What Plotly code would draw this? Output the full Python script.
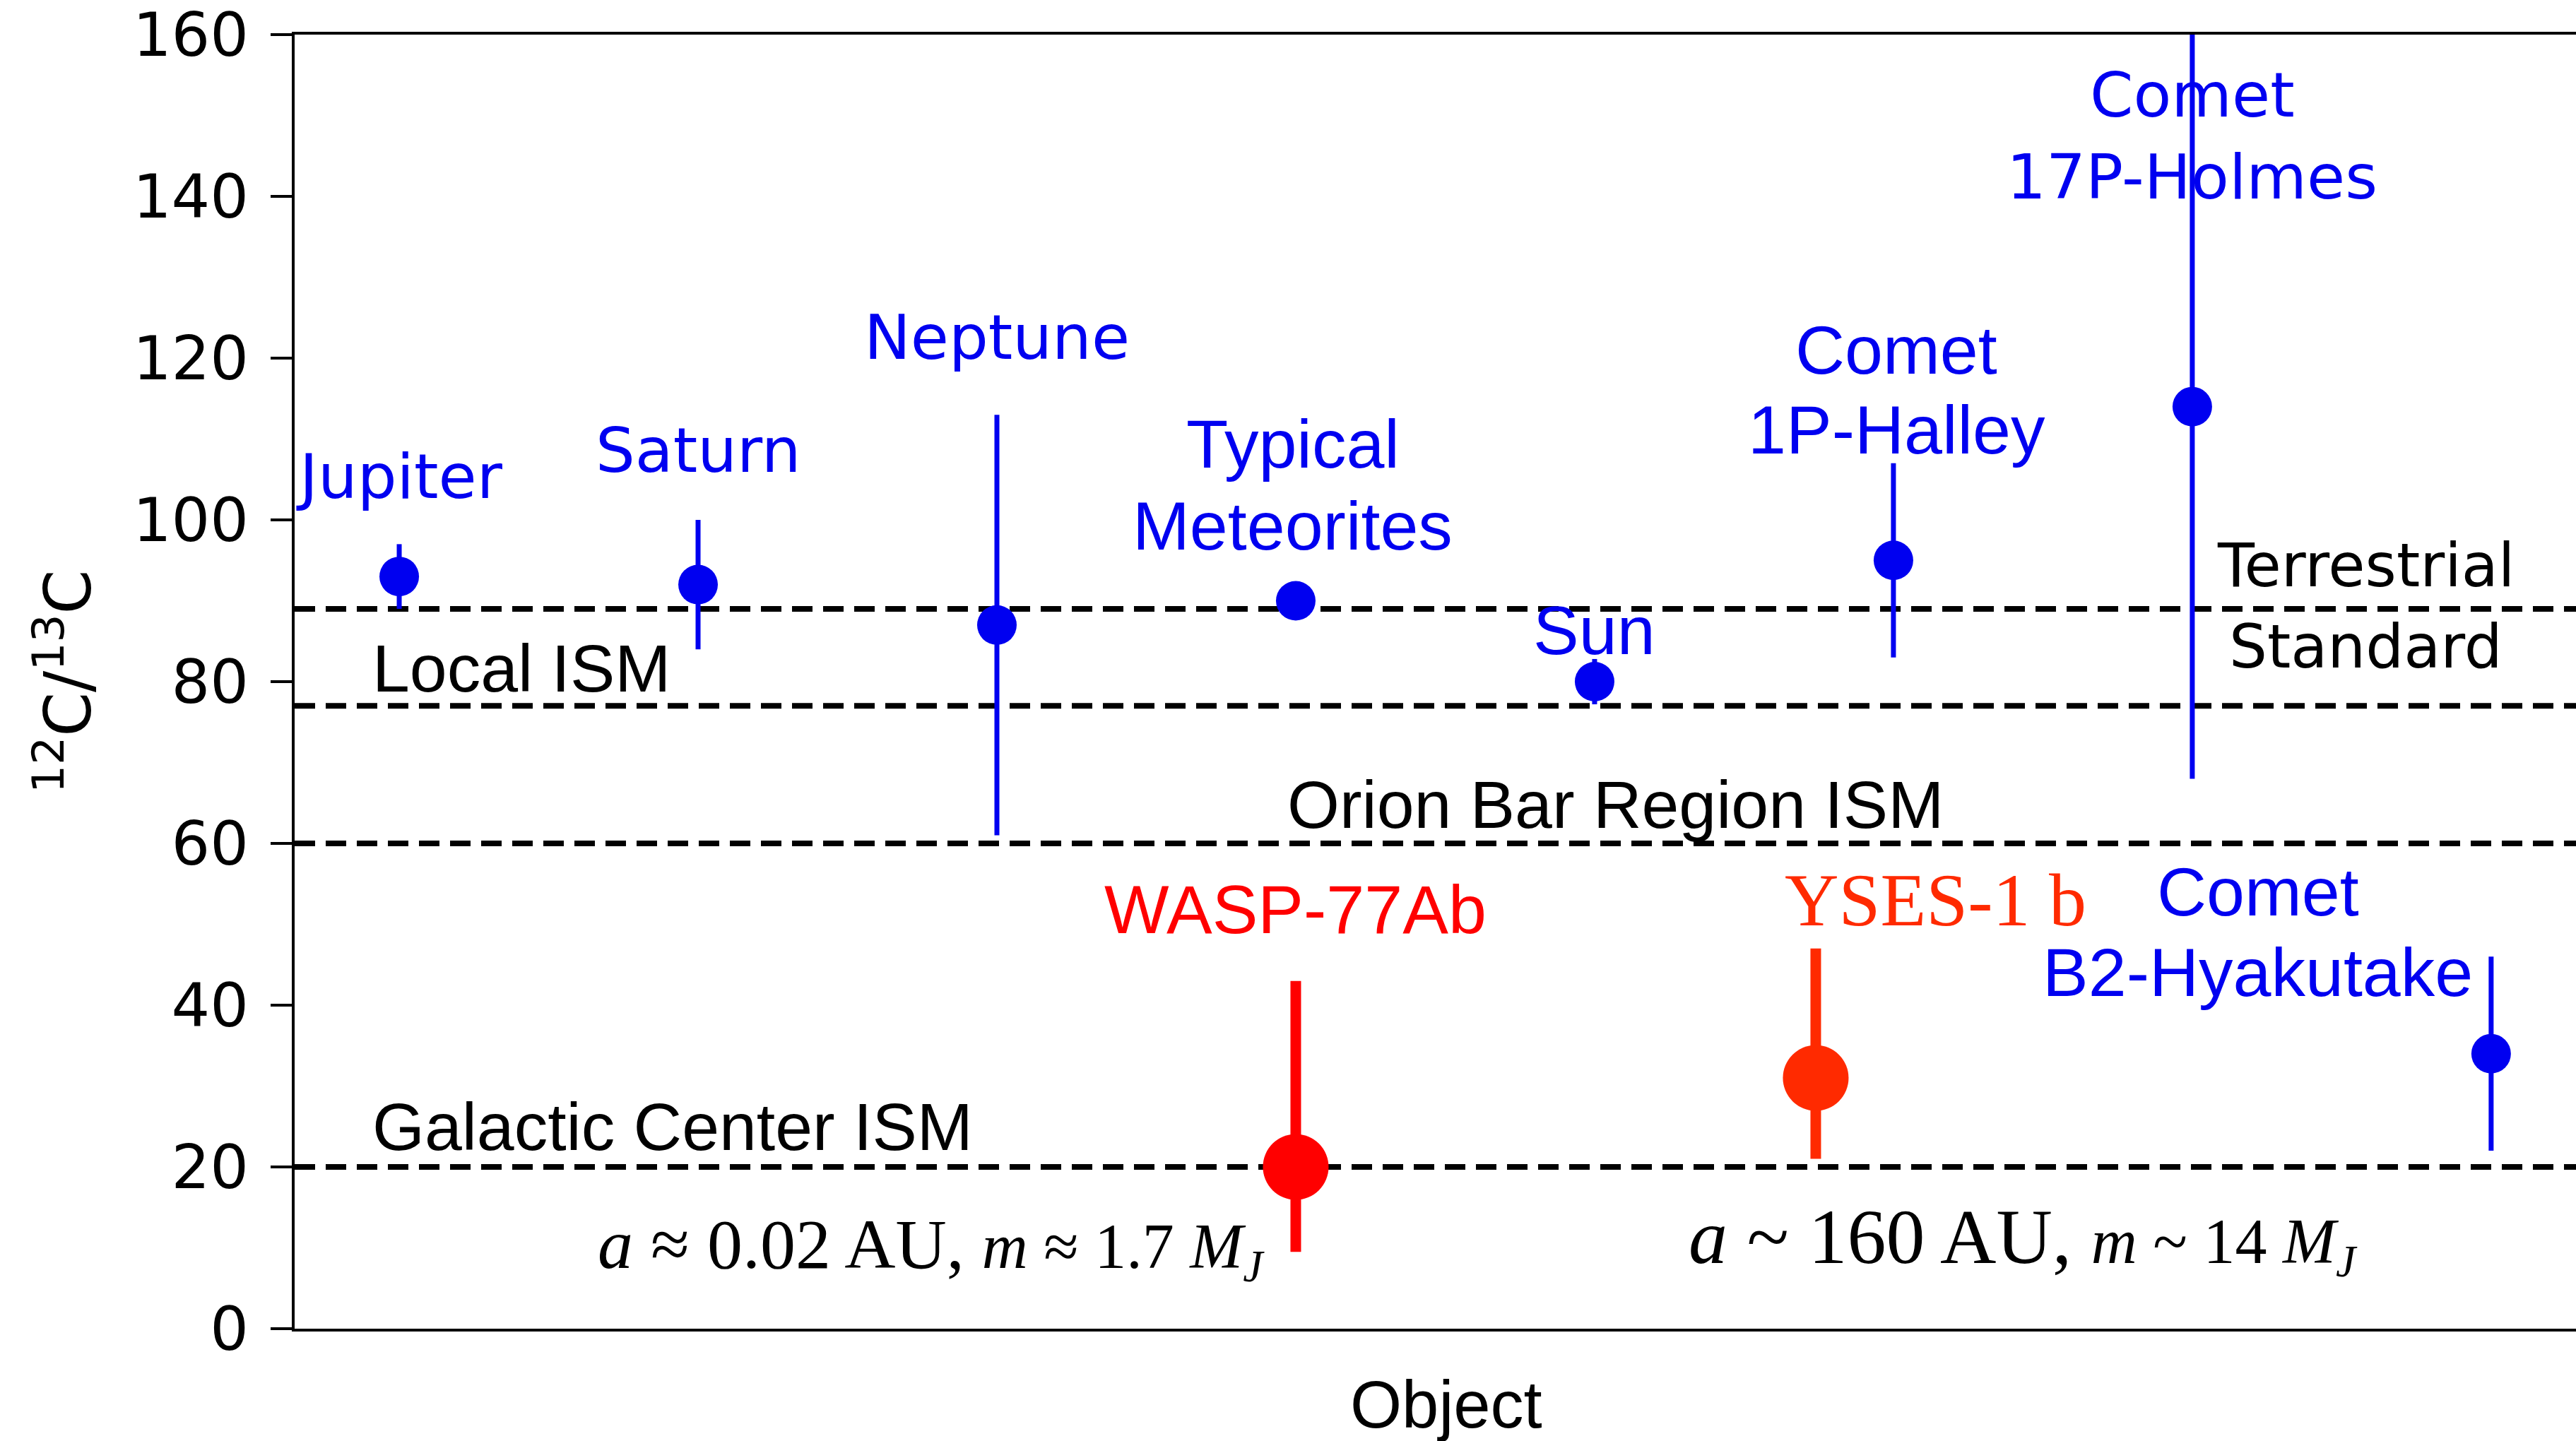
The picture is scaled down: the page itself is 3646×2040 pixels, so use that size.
import plotly.graph_objects as go

# Solar-system and comet measurements of the carbon isotope ratio
objects = ["Jupiter", "Saturn", "Neptune", "Typical Meteorites", "Sun",
           "Comet 1P-Halley", "Comet 17P-Holmes", "Comet B2-Hyakutake"]
obj_x = [1, 2, 3, 4, 5, 6, 7, 8]
obj_ratio = [93, 92, 87, 90, 80, 95, 114, 34]
obj_err = [4, 8, 26, 0, 2.8, 12, 46, 12]

# Directly imaged / transiting exoplanets
planet_names = ["WASP-77Ab", "YSES-1 b"]
planet_x = [4.0, 5.74]
planet_ratio = [20, 31]
planet_err_up = [23, 16]
planet_err_down = [10.5, 10]

# Reference ISM / terrestrial levels
ref_names = ["Terrestrial Standard", "Local ISM", "Orion Bar Region ISM", "Galactic Center ISM"]
ref_levels = [89, 77, 60, 20]

y_ticks = [0, 20, 40, 60, 80, 100, 120, 140, 160]

BLUE = "#0000F0"
RED = "#FF0000"
ORANGE_RED = "#FF2A00"
DJ = "DejaVu Sans"
AR = "Liberation Sans"
SERIF = "Liberation Serif"

fig = go.Figure()

# reference levels as dashed horizontal lines
for lvl in ref_levels:
    fig.add_shape(type="line", xref="paper", yref="y", x0=0, x1=1, y0=lvl, y1=lvl,
                  line=dict(color="black", width=8, dash="29px,15px"), layer="below")

fig.add_trace(go.Scatter(
    x=obj_x, y=obj_ratio, mode="markers", name="Solar system",
    marker=dict(color=BLUE, size=56, line=dict(width=0)),
    error_y=dict(type="data", array=obj_err, color=BLUE, thickness=7, width=0),
    showlegend=False,
))

for name, px, py, up, dn, col in zip(planet_names, planet_x, planet_ratio,
                                     planet_err_up, planet_err_down, [RED, ORANGE_RED]):
    fig.add_trace(go.Scatter(
        x=[px], y=[py], mode="markers", name=name,
        marker=dict(color=col, size=93, line=dict(width=0)),
        error_y=dict(type="data", symmetric=False, array=[up], arrayminus=[dn],
                     color=col, thickness=15, width=0),
        showlegend=False,
    ))

# text labels: (text, x, y, family, size, color, xanchor)
labels = [
    ("Jupiter", 1.0, 105.4, DJ, 88, BLUE, "center"),
    ("Saturn", 2.0, 108.6, DJ, 88, BLUE, "center"),
    ("Neptune", 3.0, 122.6, DJ, 88, BLUE, "center"),
    ("Typical", 3.99, 109.4, AR, 97, BLUE, "center"),
    ("Meteorites", 3.99, 99.3, AR, 97, BLUE, "center"),
    ("Sun", 5.0, 86.3, AR, 97, BLUE, "center"),
    ("Comet", 6.01, 121.0, AR, 97, BLUE, "center"),
    ("1P-Halley", 6.01, 111.1, AR, 97, BLUE, "center"),
    ("Comet", 7.0, 152.5, DJ, 88, BLUE, "center"),
    ("17P-Holmes", 7.0, 142.4, DJ, 88, BLUE, "center"),
    ("Comet", 7.22, 54.0, AR, 97, BLUE, "center"),
    ("B2-Hyakutake", 7.22, 44.1, AR, 97, BLUE, "center"),
    ("Terrestrial", 7.58, 94.4, DJ, 85, "black", "center"),
    ("Standard", 7.58, 84.3, DJ, 85, "black", "center"),
    ("Local ISM", 0.906, 81.7, AR, 95, "black", "left"),
    ("Orion Bar Region ISM", 5.07, 64.8, AR, 95, "black", "center"),
    ("Galactic Center ISM", 0.906, 25.0, AR, 95, "black", "left"),
    ("WASP-77Ab", 4.0, 51.8, AR, 97, RED, "center"),
    ("YSES-1 b", 6.14, 53.0, SERIF, 106, ORANGE_RED, "center"),
    ("<i>a</i> ≈ 0.02 AU, <span style='font-size:90px'><i>m</i> ≈ 1.7 <i>M</i><sub><i>J</i></sub></span>",
     2.78, 10.0, SERIF, 100, "black", "center"),
    ("<i>a</i> ~ 160 AU, <span style='font-size:90px'><i>m</i> ~ 14 <i>M</i><sub><i>J</i></sub></span>",
     6.435, 11.0, SERIF, 110, "black", "center"),
]
for text, lx, ly, fam, size, col, xa in labels:
    fig.add_annotation(text=text, x=lx, y=ly, xref="x", yref="y", showarrow=False,
                       xanchor=xa, yanchor="middle",
                       font=dict(family=fam, size=size, color=col))

# axis titles
fig.add_annotation(text="Object", xref="paper", yref="paper", x=0.5047, y=-0.0585,
                   showarrow=False, xanchor="center", yanchor="middle",
                   font=dict(family=AR, size=94, color="black"))
fig.add_annotation(text="<sup>12</sup>C/<sup>13</sup>C", xref="paper", yref="paper",
                   x=-0.1013, y=0.5, textangle=-90, showarrow=False,
                   xanchor="center", yanchor="middle",
                   font=dict(family=DJ, size=90, color="black"))

fig.update_layout(
    width=3646, height=2040,
    margin=dict(l=417, r=0, t=49, b=159),
    paper_bgcolor="white", plot_bgcolor="white",
    xaxis=dict(range=[0.65, 8.284], showgrid=False, zeroline=False,
               showticklabels=False, ticks="", showline=True, mirror=True,
               linecolor="black", linewidth=3.5),
    yaxis=dict(range=[0, 160], tickvals=y_ticks, showgrid=False, zeroline=False,
               showline=True, linecolor="black", linewidth=3.5,
               ticks="outside", ticklen=30, tickwidth=3.5, tickcolor="black",
               ticklabelstandoff=14, ticklabeloverflow="allow",
               tickfont=dict(family=DJ, size=86, color="black")),
)

fig.write_html("out.html")
